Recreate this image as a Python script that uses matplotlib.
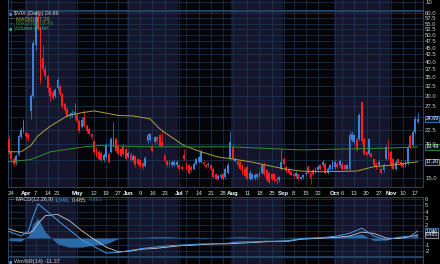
import numpy as np
import pandas as pd
import matplotlib
matplotlib.use("Agg")
import matplotlib.pyplot as plt
from matplotlib.ticker import NullLocator, NullFormatter

plt.rcParams["font.family"] = ["Liberation Sans", "DejaVu Sans"]

# trading days shown (Mar 21 - Nov 18 2014, market holidays removed)
holidays = ["2014-04-18", "2014-05-26", "2014-07-04", "2014-09-01"]
days = pd.bdate_range("2014-03-21", "2014-11-18")
days = days[~days.isin(pd.to_datetime(holidays))]

opens = [20.9, 18.7, 17.6, 17.0, 18.2, 21.2, 22.3, 22.0, 21.8, 26.4,
         30.0, 46.0, 58.0, 53.0, 41.1, 37.5, 35.4, 31.9, 31.0, 30.0,
         32.0, 32.5, 30.5, 28.0, 26.9, 25.3, 25.5, 25.5, 25.6, 24.3,
         23.0, 25.0, 23.2, 22.6, 21.8, 20.4, 19.2, 18.7, 18.5, 17.5,
         17.9, 18.4, 18.7, 19.7, 20.9, 19.7, 19.2, 19.6, 19.2, 17.9,
         18.4, 17.4, 18.0, 17.6, 17.4, 17.0, 16.6, 20.4, 20.6, 19.7,
         20.3, 21.2, 21.5, 20.3, 18.2, 17.3, 17.2, 16.7, 16.8, 16.7,
         16.7, 16.5, 18.2, 16.9, 16.7, 16.5, 16.2, 16.9, 17.2, 17.2,
         17.2, 16.7, 16.7, 16.7, 16.2, 15.5, 14.9, 15.1, 15.5, 15.1,
         15.7, 17.6, 19.5, 17.3, 17.3, 17.2, 16.7, 16.2, 16.5, 14.9,
         14.9, 15.0, 15.1, 15.3, 15.7, 16.7, 16.0, 15.7, 15.5, 15.5,
         14.9, 14.7, 16.2, 17.6, 16.5, 16.2, 15.8, 15.5, 15.2, 15.5,
         14.9, 15.1, 15.5, 16.5, 15.7, 16.0, 15.8, 16.0, 16.7, 16.7,
         16.9, 15.7, 16.2, 16.2, 16.4, 16.9, 16.7, 16.9, 16.7, 16.2,
         16.2, 20.6, 20.3, 20.9, 20.9, 28.4, 20.9, 18.7, 18.4, 18.4,
         17.6, 16.9, 16.7, 16.2, 16.0, 17.6, 19.2, 18.7, 17.6, 16.2,
         17.6, 17.2, 17.0, 16.7, 17.0, 21.4, 19.8, 22.1, 24.0]
highs = [21.5, 19.0, 17.9, 18.4, 21.8, 23.0, 24.7, 22.3, 22.0, 30.5,
         48.0, 62.0, 61.0, 54.0, 46.0, 39.0, 36.0, 32.5, 31.5, 32.0,
         35.0, 33.0, 31.0, 28.5, 27.2, 26.2, 26.5, 28.2, 26.0, 24.6,
         25.0, 26.5, 23.6, 23.0, 22.0, 20.6, 19.5, 19.0, 18.8, 18.5,
         20.2, 18.7, 21.2, 24.1, 21.2, 20.0, 19.4, 20.0, 19.5, 18.8,
         18.6, 18.3, 18.2, 17.8, 17.6, 17.2, 18.0, 22.0, 22.0, 20.0,
         21.4, 21.4, 21.8, 22.5, 18.4, 17.5, 17.4, 17.4, 17.5, 17.4,
         16.9, 16.7, 19.2, 17.1, 16.9, 16.7, 17.1, 17.8, 18.1, 19.2,
         17.4, 16.9, 17.1, 16.9, 16.4, 15.7, 15.5, 15.6, 15.7, 16.4,
         17.2, 22.2, 20.0, 17.9, 17.5, 17.4, 16.9, 16.4, 16.7, 16.0,
         15.7, 15.6, 15.7, 15.9, 16.9, 17.2, 16.2, 15.9, 15.7, 15.7,
         15.1, 15.3, 19.2, 17.9, 16.7, 16.4, 16.0, 15.7, 15.9, 15.7,
         15.3, 15.5, 15.9, 16.7, 15.9, 16.2, 16.5, 16.7, 16.9, 17.4,
         17.1, 16.4, 16.9, 17.4, 17.4, 17.1, 17.6, 17.1, 16.9, 16.9,
         22.3, 22.2, 21.8, 21.2, 26.0, 28.8, 21.2, 18.9, 21.0, 18.6,
         17.8, 17.1, 17.4, 16.4, 17.0, 19.8, 20.9, 19.0, 17.8, 17.4,
         17.8, 17.6, 17.2, 17.4, 19.8, 21.8, 22.5, 25.2, 26.2]
lows = [18.4, 17.2, 16.6, 16.8, 18.0, 20.9, 22.0, 20.6, 20.5, 24.7,
        29.5, 44.0, 52.0, 33.0, 36.5, 34.5, 31.0, 28.5, 29.0, 29.5,
        31.5, 30.0, 27.0, 26.0, 25.0, 24.9, 25.0, 24.7, 24.0, 22.0,
        22.8, 23.0, 22.0, 21.5, 20.8, 18.4, 17.9, 17.4, 17.2, 17.2,
        17.6, 17.0, 18.5, 19.5, 18.7, 18.2, 17.9, 18.0, 17.4, 17.7,
        17.2, 17.2, 16.5, 16.6, 16.3, 16.2, 16.4, 20.2, 20.4, 18.6,
        20.0, 20.2, 19.5, 19.5, 17.1, 16.5, 16.5, 16.5, 16.6, 16.5,
        16.0, 16.0, 17.4, 16.0, 15.5, 15.8, 16.0, 16.7, 17.0, 17.0,
        16.7, 16.3, 16.5, 16.0, 15.0, 14.7, 14.7, 14.9, 14.7, 14.9,
        15.5, 17.4, 17.4, 17.1, 16.5, 16.0, 15.5, 15.1, 14.7, 14.7,
        14.7, 14.8, 14.9, 15.1, 15.5, 15.3, 14.5, 14.3, 14.7, 14.5,
        14.3, 14.5, 16.0, 16.7, 15.7, 15.5, 15.2, 15.0, 15.0, 14.7,
        14.7, 14.9, 15.3, 15.5, 14.3, 15.3, 15.6, 15.8, 16.0, 16.5,
        15.5, 15.5, 16.0, 16.0, 16.2, 16.3, 16.5, 16.0, 16.0, 16.0,
        16.0, 20.3, 20.0, 18.8, 20.5, 20.2, 18.2, 18.0, 18.2, 17.7,
        16.5, 16.2, 16.5, 15.5, 15.8, 17.4, 17.4, 16.5, 16.0, 16.0,
        16.8, 16.5, 16.3, 16.5, 16.8, 19.2, 19.5, 21.8, 23.8]
closes = [18.7, 17.6, 16.9, 18.0, 21.4, 22.5, 24.2, 21.3, 21.0, 30.0,
          46.9, 58.0, 53.0, 34.0, 37.5, 35.5, 31.9, 30.0, 29.5, 31.5,
          34.2, 30.5, 27.5, 26.5, 25.3, 25.8, 26.0, 26.2, 24.3, 22.3,
          24.5, 23.2, 22.3, 21.8, 21.2, 18.7, 18.1, 17.6, 17.5, 18.2,
          19.8, 17.2, 20.9, 21.2, 18.9, 18.4, 18.1, 18.4, 17.6, 18.5,
          17.4, 18.0, 16.7, 16.9, 16.6, 16.4, 17.8, 21.6, 21.8, 18.8,
          21.2, 20.5, 19.7, 19.7, 17.3, 16.7, 16.7, 17.2, 17.2, 17.2,
          16.2, 16.2, 17.6, 16.2, 15.7, 16.0, 16.9, 17.6, 17.9, 18.7,
          16.9, 16.5, 16.9, 16.2, 15.1, 14.9, 15.3, 15.4, 14.9, 16.2,
          16.7, 20.3, 17.6, 17.6, 16.7, 16.2, 15.7, 15.3, 14.9, 15.7,
          15.5, 15.4, 15.5, 15.7, 16.7, 15.5, 14.7, 14.5, 14.9, 14.7,
          14.6, 15.1, 17.2, 16.9, 15.9, 15.7, 15.4, 15.2, 15.7, 14.9,
          15.1, 15.4, 15.7, 15.7, 15.0, 15.5, 16.2, 16.5, 16.2, 17.2,
          15.7, 16.2, 16.7, 17.2, 17.2, 16.5, 17.3, 16.2, 16.2, 16.7,
          21.5, 21.8, 21.5, 19.0, 25.5, 20.5, 18.4, 18.2, 20.9, 17.9,
          16.7, 16.4, 17.2, 15.7, 16.7, 19.5, 17.6, 16.7, 16.2, 17.2,
          17.0, 16.7, 16.5, 17.2, 19.5, 19.5, 22.1, 24.7, 24.69]

# moving averages (trading-day index, value)
ma50_days = [0, 5, 9, 12, 17, 24, 29, 35, 40, 45, 51, 58, 62, 66, 72, 79,
             86, 92, 99, 106, 113, 120, 129, 143, 150, 157, 166, 168]
ma50 = [18.7, 18.7, 19.7, 21.4, 23.2, 25.3, 25.9, 26.4, 25.9, 25.4, 25.3,
        24.7, 22.7, 21.4, 19.7, 18.7, 17.9, 17.6, 17.2, 16.7, 16.2, 15.9,
        15.8, 15.9, 16.5, 16.7, 17.1, 17.2]
ma200_days = [0, 9, 17, 31, 37, 58, 91, 120, 157, 168]
ma200 = [17.2, 17.5, 18.7, 19.5, 19.7, 19.5, 19.5, 19.0, 19.3, 19.49]

# MACD(12,26,9)
macd_days = [0, 5, 8, 10, 12, 15, 20, 25, 30, 35, 40, 45, 50, 55, 60, 65,
             70, 75, 80, 85, 90, 95, 100, 105, 110, 115, 120, 125, 130, 135,
             140, 145, 150, 155, 160, 165, 168]
macd = [1.0, 0.3, 1.0, 3.3, 5.2, 4.3, 2.7, 1.2, -0.3, -1.3, -2.3, -2.2,
        -1.9, -1.6, -1.4, -1.2, -1.1, -1.0, -0.9, -0.9, -0.8, -0.6, -0.6,
        -0.5, -0.5, -0.4, -0.1, 0.0, 0.1, 0.3, 0.7, 1.5, 0.3, -0.3, 0.1,
        0.3, 1.046]
signal = [1.4, 0.8, 0.7, 1.1, 2.2, 3.4, 3.6, 2.6, 1.1, -0.2, -1.4, -2.1,
          -2.0, -1.7, -1.6, -1.4, -1.2, -1.1, -1.0, -0.9, -0.9, -0.8, -0.7,
          -0.6, -0.5, -0.5, -0.2, -0.1, 0.0, 0.1, 0.3, 0.9, 0.7, 0.0, -0.1,
          0.2, 0.485]
hist = [-0.4, -0.5, 0.3, 2.2, 3.0, 0.9, -0.9, -1.4, -1.4, -1.1, -0.9, -0.1,
        0.1, 0.1, 0.2, 0.2, 0.1, 0.1, 0.1, 0.0, 0.1, 0.2, 0.1, 0.1, 0.0,
        0.1, 0.1, 0.1, 0.1, 0.2, 0.4, 0.6, -0.4, -0.3, 0.2, 0.1, 0.561]

tick_dates = ["2014-03-24", "2014-04-01", "2014-04-07", "2014-04-14",
              "2014-04-21", "2014-05-01", "2014-05-12", "2014-05-19",
              "2014-05-27", "2014-06-02", "2014-06-09", "2014-06-16",
              "2014-06-23", "2014-07-01", "2014-07-07", "2014-07-14",
              "2014-07-21", "2014-07-28", "2014-08-01", "2014-08-11",
              "2014-08-18", "2014-08-25", "2014-09-02", "2014-09-08",
              "2014-09-15", "2014-09-22", "2014-10-01", "2014-10-06",
              "2014-10-13", "2014-10-20", "2014-10-27", "2014-11-03",
              "2014-11-10", "2014-11-17"]
tick_labels = ["24", "Apr", "7", "14", "21", "May", "12", "19", "27", "Jun",
               "9", "16", "23", "Jul", "7", "14", "21", "28", "Aug", "11",
               "18", "25", "Sep", "8", "15", "22", "Oct", "6", "13", "20",
               "27", "Nov", "10", "17"]
price_ticks = [15.0, 17.5, 20.0, 22.5, 25.0, 27.5, 30.0, 32.5, 35.0, 37.5,
               40.0, 42.5, 45.0, 47.5, 50.0, 52.5, 55.0, 57.5, 60.0]
macd_ticks = [-2, -1, 0, 1, 2, 3, 4, 5, 6]

BG = "#040409"
SHADE = "#15152b"
GRID = "#1a3857"
EDGE = "#2b4d70"
TXT = "#d4d4d4"
UP = "#3d82d4"
DOWN = "#ff1c1c"
MA50_C = "#a9a232"
MA200_C = "#2f8f2f"
MACD_C = "#4a9ae6"
HIST_C = "#2a6aa8"

fig = plt.figure(figsize=(4.4, 2.64), dpi=100, facecolor="black")
renderer = fig.canvas.get_renderer()


def px_box(top, bottom):
    # axes rectangle from pixel rows of the 440x264 picture
    return [7.5 / 440, 1 - bottom / 264, 415.5 / 440, (bottom - top) / 264]


def text_run(x_px, y_px, parts, size=4):
    # several coloured pieces of text, one after the other on a line
    x = x_px / 440
    for s, col in parts:
        t = fig.text(x, 1 - y_px / 264, s, color=col, fontsize=size,
                     va="center")
        x = (t.get_window_extent(renderer).x1 + 1.2) / 440


ax_top = fig.add_axes(px_box(-6, 10))
ax = fig.add_axes(px_box(10.5, 187))
ax_macd = fig.add_axes(px_box(197, 256))
ax_bot = fig.add_axes(px_box(257, 275))

x = np.arange(len(closes))
tick_idx = days.get_indexer(pd.to_datetime(tick_dates))

for a in (ax_top, ax, ax_macd, ax_bot):
    a.set_facecolor(BG)
    for month in (4, 6, 8, 10):
        idx = np.where(days.month == month)[0]
        a.axvspan(idx[0] - 0.5, idx[-1] + 0.5, color=SHADE, lw=0, zorder=0)
    a.set_xlim(-0.55, 170.2)
    a.set_xticks(tick_idx)
    a.set_xticklabels([])
    a.grid(True, color=GRID, lw=0.5)
    a.set_axisbelow(True)
    a.tick_params(length=0, labelsize=4.3, colors=TXT, pad=1.5)
    a.yaxis.tick_right()
    for s in a.spines.values():
        s.set_color(EDGE)
        s.set_linewidth(0.6)

# top strip
ax_top.set_ylim(0, 20)
ax_top.set_yticks([10])
ax_top.set_yticklabels(["10"])

# price panel
o, h, l, c = map(np.array, (opens, highs, lows, closes))
colors = np.where(c >= o, UP, DOWN)
ax.vlines(x, l, h, colors=colors, lw=0.5, zorder=3)
ax.bar(x, np.abs(c - o), bottom=np.minimum(o, c), width=0.75,
       color=colors, lw=0, zorder=4)
ax.plot(ma50_days, ma50, color=MA50_C, lw=0.7, zorder=5)
ax.plot(ma200_days, ma200, color=MA200_C, lw=0.7, zorder=5)

ax.set_yscale("log")
ax.set_ylim(13.9, 61.5)
ax.set_yticks(price_ticks)
ax.set_yticklabels(["" if v in (17.5, 25.0) else f"{v:.1f}"
                    for v in price_ticks])
ax.yaxis.set_minor_locator(NullLocator())
ax.yaxis.set_minor_formatter(NullFormatter())
ax.set_xticklabels(tick_labels)
ax.tick_params(axis="x", pad=3.2)
for t, lab in zip(ax.get_xticklabels(), tick_labels):
    if not lab.isdigit():
        t.set_fontweight("bold")
        t.set_color("white")

ytr = ax.get_yaxis_transform()
for val, txt, ec in ((closes[-1], "24.69", UP), (ma200[-1], "19.49", MA200_C),
                     (ma50[-1], "17.20", MA50_C)):
    ax.text(1.006, val, txt, transform=ytr, fontsize=3.8, color="white",
            va="center", ha="left", zorder=6, clip_on=False,
            bbox=dict(boxstyle="square,pad=0.12", fc="#0a1628", ec=ec,
                      lw=0.6))

# legend
text_run(9, 14, [("\u25a0", UP), ("$VIX (Daily) 24.69", TXT)])
text_run(9, 19, [("\u2014", MA50_C), ("MA(50) 17.20", MA50_C)])
text_run(9, 24, [("\u2014", MA200_C), ("MA(200) 19.49", MA200_C)])
text_run(9, 28.5, [("\u25a0", "#2aa86a"), ("Volume undef", "#2aa86a")])

# MACD panel
ax_macd.fill_between(macd_days, 0, hist, color=HIST_C, lw=0, zorder=2)
ax_macd.plot(macd_days, signal, color="#c8c8c8", lw=0.6, zorder=3)
ax_macd.plot(macd_days, macd, color=MACD_C, lw=0.7, zorder=4)
ax_macd.set_ylim(-2.75, 6.25)
ax_macd.set_yticks(macd_ticks)
ax_macd.set_yticklabels(["" if v in (0, 1) else str(v) for v in macd_ticks])
mtr = ax_macd.get_yaxis_transform()
for val, txt, ec in ((macd[-1], "1.046", MACD_C),
                     (signal[-1], "0.485", "#c8c8c8")):
    ax_macd.text(1.006, val, txt, transform=mtr, fontsize=3.4, color="white",
                 va="center", ha="left", zorder=6, clip_on=False,
                 bbox=dict(boxstyle="square,pad=0.1", fc="#0a1628", ec=ec,
                           lw=0.5))
text_run(9, 199.5, [("\u2014", MACD_C), ("MACD(12,26,9)", TXT),
                    ("1.046,", MACD_C), ("0.485,", TXT), ("0.561", HIST_C)])

# bottom strip
ax_bot.set_ylim(-100, 0)
ax_bot.set_yticks([])
text_run(9, 262, [("\u25a0", MACD_C), ("Wm%R(14) -11.37", TXT)])

fig.savefig("out.png", dpi=100, facecolor="black")
